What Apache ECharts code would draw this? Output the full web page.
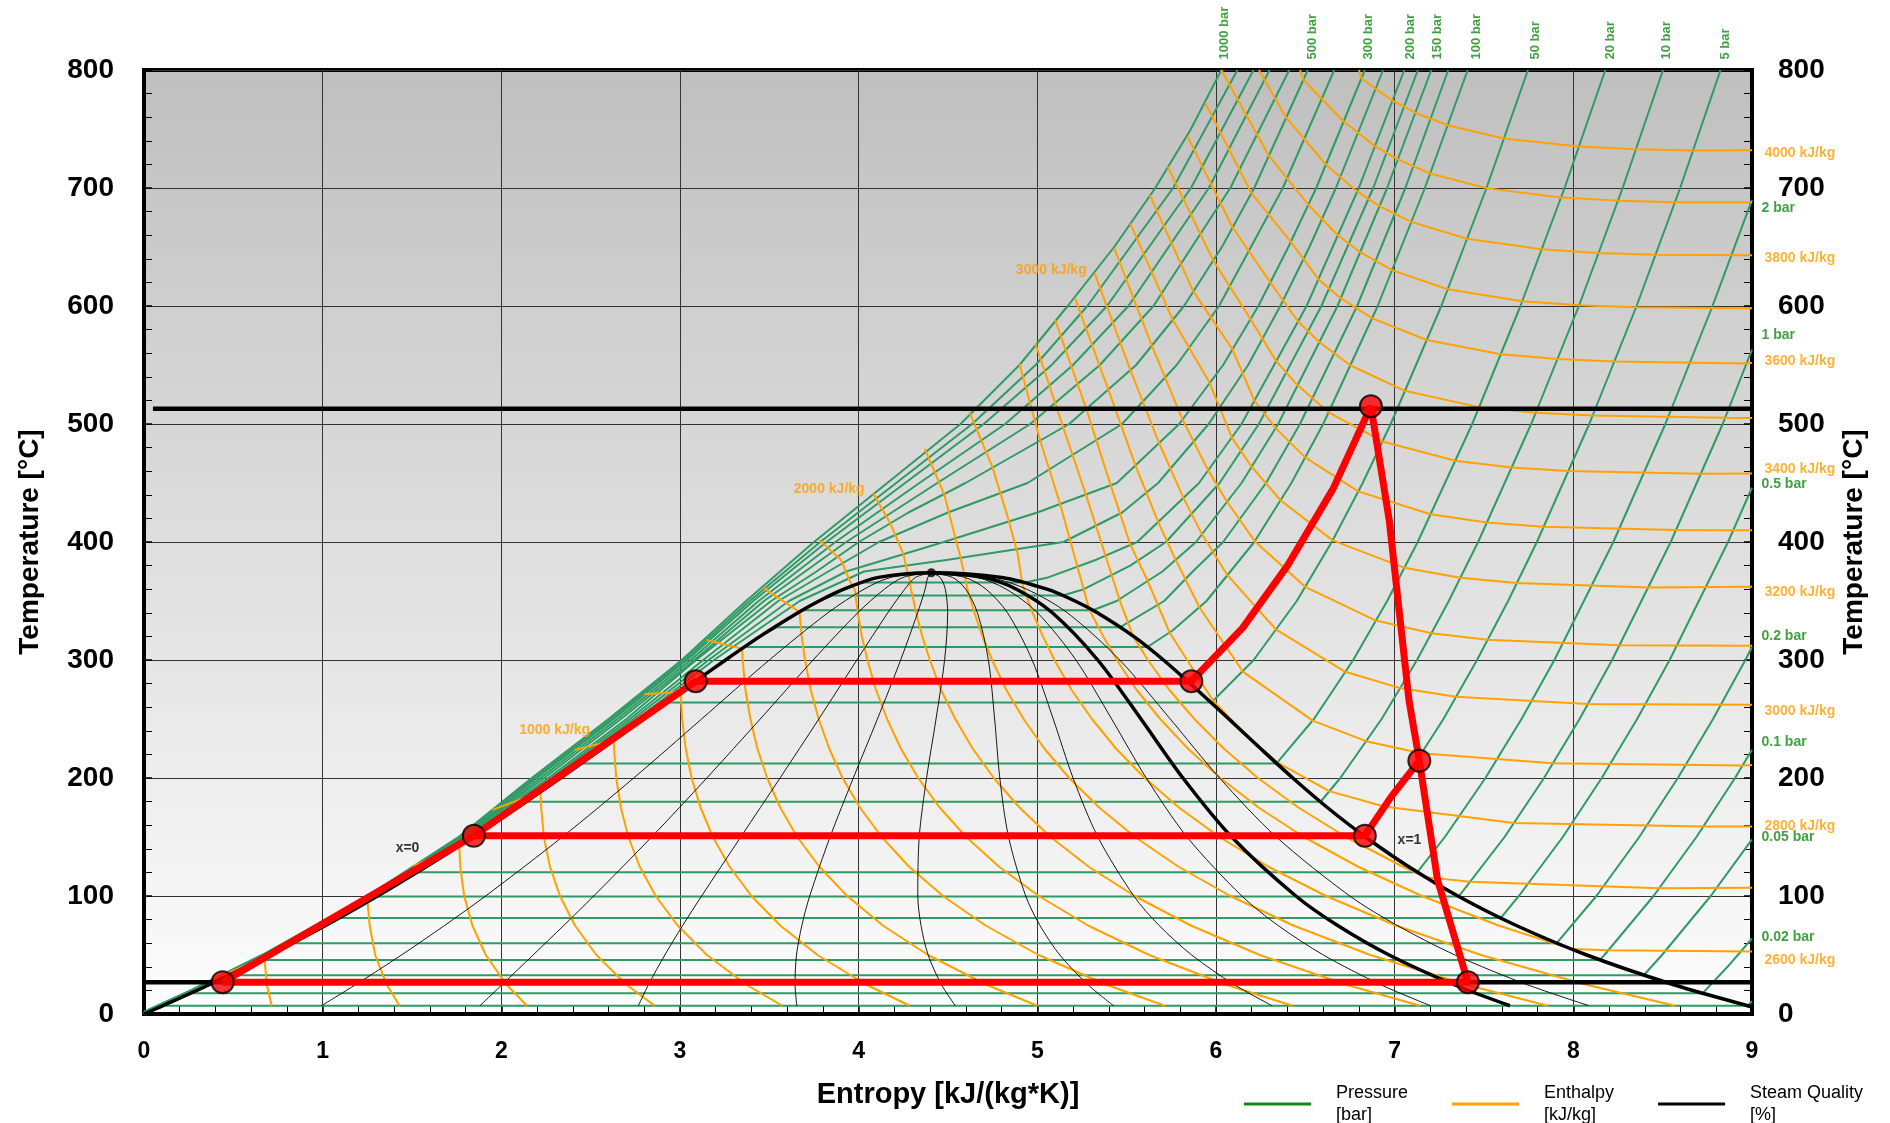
<!DOCTYPE html>
<html>
<head>
<meta charset="utf-8">
<title>T-s diagram of water</title>
<script src="https://cdn.jsdelivr.net/npm/echarts/dist/echarts.min.js"></script>
<style>
  html, body { margin: 0; padding: 0; background: #fff; }
  #chart { width: 1890px; height: 1123px; }
</style>
</head>
<body>
<div id="chart"></div>
<script>
// all points are [entropy kJ/(kg*K), temperature °C]

// saturation dome
const satLiquid = [[0, 0.01], [0.106, 7], [0.367, 25], [0.704, 50], [1.016, 75], [1.307, 100], [1.581, 125],
  [1.842, 150], [2.091, 175], [2.331, 200], [2.564, 225], [2.794, 250], [3.022, 275], [3.255, 300],
  [3.448, 320], [3.660, 340], [3.778, 350], [3.917, 360], [4.111, 370], [4.407, 373.95]];
const satVapor = [[4.407, 373.95], [4.801, 370], [5.054, 360], [5.211, 350], [5.336, 340], [5.539, 320],
  [5.706, 300], [5.892, 275], [6.072, 250], [6.249, 225], [6.430, 200], [6.623, 175], [6.837, 150],
  [7.077, 125], [7.354, 100], [7.681, 75], [8.075, 50], [8.558, 25], [8.975, 7], [9.0, 6]];
const criticalPoint = [4.407, 373.95];

// steam quality lines x = 0.1 ... 0.9
const qualityLevels = [0.1, 0.2, 0.3, 0.4, 0.5, 0.6, 0.7, 0.8, 0.9];
const qualityCurves = [
  [[0.993, 7], [1.186, 25], [1.441, 50], [1.682, 75], [1.912, 100], [2.341, 150], [2.741, 200], [3.121, 250], [3.500, 300], [3.828, 340], [4.030, 360], [4.180, 370], [4.407, 373.95]],
  [[1.880, 7], [2.005, 25], [2.178, 50], [2.349, 75], [2.517, 100], [2.841, 150], [3.150, 200], [3.449, 250], [3.745, 300], [3.995, 340], [4.144, 360], [4.249, 370], [4.407, 373.95]],
  [[2.767, 7], [2.824, 25], [2.915, 50], [3.015, 75], [3.121, 100], [3.340, 150], [3.560, 200], [3.777, 250], [3.990, 300], [4.163, 340], [4.258, 360], [4.318, 370], [4.407, 373.95]],
  [[3.654, 7], [3.644, 25], [3.652, 50], [3.682, 75], [3.726, 100], [3.840, 150], [3.970, 200], [4.105, 250], [4.235, 300], [4.330, 340], [4.372, 360], [4.387, 370], [4.407, 373.95]],
  [[4.541, 7], [4.463, 25], [4.389, 50], [4.349, 75], [4.331, 100], [4.339, 150], [4.380, 200], [4.433, 250], [4.481, 300], [4.498, 340], [4.485, 360], [4.456, 370], [4.407, 373.95]],
  [[5.427, 7], [5.282, 25], [5.126, 50], [5.015, 75], [4.935, 100], [4.839, 150], [4.790, 200], [4.761, 250], [4.726, 300], [4.665, 340], [4.599, 360], [4.525, 370], [4.407, 373.95]],
  [[6.314, 7], [6.101, 25], [5.864, 50], [5.682, 75], [5.540, 100], [5.339, 150], [5.200, 200], [5.089, 250], [4.971, 300], [4.833, 340], [4.713, 360], [4.594, 370], [4.407, 373.95]],
  [[7.201, 7], [6.920, 25], [6.601, 50], [6.348, 75], [6.145, 100], [5.838, 150], [5.610, 200], [5.416, 250], [5.216, 300], [5.001, 340], [4.826, 360], [4.663, 370], [4.407, 373.95]],
  [[8.088, 7], [7.739, 25], [7.338, 50], [7.015, 75], [6.749, 100], [6.338, 150], [6.020, 200], [5.744, 250], [5.461, 300], [5.168, 340], [4.940, 360], [4.732, 370], [4.407, 373.95]]
];
// the heavy quality line (x = 0.85)
const heavyQuality = [[7.645, 7], [7.330, 25], [6.969, 50], [6.681, 75], [6.447, 100], [6.088, 150], [5.815, 200],
  [5.580, 250], [5.338, 300], [5.084, 340], [4.883, 360], [4.698, 370], [4.407, 373.95]];

// subcritical isobars: saturation state + superheated branch
const subPressures = [0.01, 0.02, 0.05, 0.1, 0.2, 0.5, 1, 2, 5, 10, 20, 50, 100, 125, 150, 175, 200];
const subSatT = [6.97, 17.5, 32.87, 45.81, 60.06, 81.32, 99.61, 120.21, 151.83, 179.88, 212.38, 263.94, 311.0, 327.8, 342.16, 354.7, 365.75];
const subSatLiqS = [0.106, 0.261, 0.476, 0.649, 0.832, 1.091, 1.303, 1.530, 1.860, 2.138, 2.447, 2.921, 3.360, 3.544, 3.685, 3.853, 4.015];
const subSatVapS = [8.975, 8.723, 8.394, 8.149, 7.907, 7.593, 7.359, 7.127, 6.821, 6.585, 6.339, 5.974, 5.616, 5.464, 5.311, 5.142, 4.931];
const subSuperheat = [
  [[9.0, 10.8]],
  [[8.863, 40], [9.0, 64]],
  [[8.496, 50], [8.769, 100], [9.0, 148]],
  [[8.174, 50], [8.449, 100], [8.689, 150], [8.905, 200], [9.0, 224]],
  [[8.129, 100], [8.369, 150], [8.585, 200], [8.782, 250], [8.963, 300], [9.0, 311]],
  [[7.695, 100], [7.941, 150], [8.159, 200], [8.357, 250], [8.539, 300], [8.866, 400], [9.0, 446]],
  [[7.615, 150], [7.836, 200], [8.035, 250], [8.217, 300], [8.545, 400], [8.836, 500], [9.0, 563]],
  [[7.281, 150], [7.508, 200], [7.710, 250], [7.894, 300], [8.224, 400], [8.515, 500], [8.779, 600], [9.0, 690]],
  [[7.061, 200], [7.273, 250], [7.461, 300], [7.635, 350], [7.796, 400], [8.089, 500], [8.354, 600], [8.598, 700], [8.824, 800]],
  [[6.696, 200], [6.927, 250], [7.125, 300], [7.303, 350], [7.467, 400], [7.764, 500], [8.031, 600], [8.276, 700], [8.502, 800]],
  [[6.548, 250], [6.768, 300], [6.958, 350], [7.129, 400], [7.434, 500], [7.704, 600], [7.951, 700], [8.179, 800]],
  [[6.211, 300], [6.452, 350], [6.648, 400], [6.821, 450], [6.978, 500], [7.261, 600], [7.514, 700], [7.746, 800]],
  [[5.757, 325], [5.947, 350], [6.214, 400], [6.422, 450], [6.600, 500], [6.905, 600], [7.169, 700], [7.409, 800]],
  [[5.710, 350], [5.870, 375], [6.040, 400], [6.280, 450], [6.470, 500], [6.790, 600], [7.060, 700], [7.300, 800]],
  [[5.444, 350], [5.700, 375], [5.888, 400], [6.143, 450], [6.348, 500], [6.680, 600], [6.958, 700], [7.205, 800]],
  [[5.260, 360], [5.520, 380], [5.720, 400], [6.020, 450], [6.240, 500], [6.590, 600], [6.880, 700], [7.130, 800]],
  [[5.060, 370], [5.330, 385], [5.559, 400], [5.905, 450], [6.143, 500], [6.507, 600], [6.799, 700], [7.054, 800]]
];

// supercritical isobars (bar)
const superPressures = [250, 300, 400, 500, 600, 700, 800, 900, 1000];
const superCurves = [
  [[0, 1], [0.293, 20], [0.70, 50], [1.294, 100], [1.82, 150], [2.30, 200], [2.76, 250], [3.19, 300], [3.67, 350], [4.03, 375], [4.50, 385], [5.146, 400], [5.475, 425], [5.676, 450], [5.959, 500], [6.18, 550], [6.360, 600], [6.523, 650], [6.671, 700], [6.935, 800]],
  [[0, 1], [0.292, 20], [0.70, 50], [1.292, 100], [1.815, 150], [2.295, 200], [2.74, 250], [3.16, 300], [3.61, 350], [3.93, 375], [4.476, 400], [5.00, 425], [5.445, 450], [5.794, 500], [6.04, 550], [6.237, 600], [6.405, 650], [6.561, 700], [6.833, 800]],
  [[0, 1], [0.291, 20], [0.695, 50], [1.288, 100], [1.81, 150], [2.28, 200], [2.72, 250], [3.13, 300], [3.55, 350], [3.83, 375], [4.114, 400], [4.50, 425], [4.945, 450], [5.474, 500], [5.78, 550], [6.017, 600], [6.374, 700], [6.662, 800]],
  [[0, 1], [0.290, 20], [0.69, 50], [1.284, 100], [1.80, 150], [2.263, 200], [2.70, 250], [3.09, 300], [3.51, 350], [3.764, 375], [4.001, 400], [4.279, 425], [4.598, 450], [5.178, 500], [5.553, 550], [5.821, 600], [6.033, 650], [6.214, 700], [6.514, 800]],
  [[0, 1], [0.285, 20], [0.685, 50], [1.28, 100], [1.79, 150], [2.24, 200], [2.67, 250], [3.08, 300], [3.47, 350], [3.93, 400], [4.44, 450], [4.96, 500], [5.35, 550], [5.65, 600], [6.08, 700], [6.41, 800]],
  [[0, 1], [0.28, 20], [0.68, 50], [1.27, 100], [1.782, 150], [2.22, 200], [2.65, 250], [3.06, 300], [3.44, 350], [3.87, 400], [4.34, 450], [4.82, 500], [5.20, 550], [5.51, 600], [5.96, 700], [6.30, 800]],
  [[0, 1], [0.27, 20], [0.675, 50], [1.26, 100], [1.775, 150], [2.20, 200], [2.63, 250], [3.04, 300], [3.41, 350], [3.82, 400], [4.26, 450], [4.70, 500], [5.08, 550], [5.39, 600], [5.86, 700], [6.21, 800]],
  [[0, 1.5], [0.265, 20], [0.668, 50], [1.255, 100], [1.768, 150], [2.185, 200], [2.615, 250], [3.025, 300], [3.39, 350], [3.785, 400], [4.21, 450], [4.635, 500], [4.99, 550], [5.28, 600], [5.76, 700], [6.12, 800]],
  [[0, 2], [0.26, 20], [0.66, 50], [1.25, 100], [1.76, 150], [2.17, 200], [2.60, 250], [3.01, 300], [3.37, 350], [3.75, 400], [4.16, 450], [4.57, 500], [4.90, 550], [5.17, 600], [5.43, 650], [5.66, 700], [5.86, 750], [6.03, 800]]
];

// isenthalps (kJ/kg)
const enthalpyLevels = [200, 400, 600, 800, 1000, 1200, 1400, 1600, 1800, 2000, 2200, 2400,
  2600, 2700, 2800, 2900, 3000, 3100, 3200, 3300, 3400, 3500, 3600, 3700, 3800, 3900, 4000];
const enthalpyCurves = [
  [[0.38, 29], [0.674, 47.8], [0.687, 25], [0.715, 7]],
  [[0.985, 77.5], [1.251, 95.5], [1.263, 75], [1.294, 50], [1.358, 25], [1.430, 7]],
  [[1.51, 125.6], [1.765, 142.5], [1.770, 125], [1.792, 100], [1.838, 75], [1.913, 50], [2.028, 25], [2.144, 7]],
  [[1.95, 173], [2.219, 188.3], [2.223, 175], [2.238, 150], [2.272, 125], [2.328, 100], [2.412, 75], [2.532, 50], [2.699, 25], [2.858, 7]],
  [[2.41, 223.7], [2.629, 232.1], [2.631, 225], [2.643, 200], [2.669, 175], [2.711, 150], [2.774, 125], [2.864, 100], [2.987, 75], [3.151, 50], [3.370, 25], [3.572, 7]],
  [[2.80, 271], [3.003, 272.9], [3.012, 250], [3.032, 225], [3.065, 200], [3.115, 175], [3.184, 150], [3.277, 125], [3.400, 100], [3.561, 75], [3.770, 50], [4.041, 25], [4.286, 7]],
  [[3.15, 317], [3.348, 309.6], [3.351, 300], [3.366, 275], [3.394, 250], [3.433, 225], [3.488, 200], [3.561, 175], [3.656, 150], [3.779, 125], [3.936, 100], [4.135, 75], [4.389, 50], [4.712, 25], [5.000, 7]],
  [[3.47, 360.7], [3.669, 340.8], [3.681, 320], [3.700, 300], [3.731, 275], [3.776, 250], [3.835, 225], [3.910, 200], [4.007, 175], [4.129, 150], [4.281, 125], [4.472, 100], [4.710, 75], [5.007, 50], [5.383, 25], [5.714, 7]],
  [[3.78, 401.7], [3.90, 385], [3.964, 362.4], [3.978, 360], [3.995, 340], [4.018, 320], [4.049, 300], [4.096, 275], [4.159, 250], [4.236, 225], [4.333, 200], [4.453, 175], [4.602, 150], [4.784, 125], [5.008, 100], [5.284, 75], [5.626, 50], [6.054, 25], [6.428, 7]],
  [[4.08, 441.5], [4.18, 415], [4.25, 390], [4.276, 372.2], [4.283, 370], [4.293, 360], [4.322, 340], [4.356, 320], [4.398, 300], [4.460, 275], [4.541, 250], [4.638, 225], [4.756, 200], [4.900, 175], [5.074, 150], [5.286, 125], [5.544, 100], [5.859, 75], [6.245, 50], [6.725, 25], [7.142, 7]],
  [[4.37, 479], [4.48, 440], [4.54, 404], [4.57, 387], [4.595, 370], [4.609, 360], [4.648, 340], [4.693, 320], [4.747, 300], [4.825, 275], [4.923, 250], [5.039, 225], [5.178, 200], [5.346, 175], [5.547, 150], [5.788, 125], [6.080, 100], [6.433, 75], [6.864, 50], [7.396, 25], [7.856, 7]],
  [[4.62, 510], [4.75, 463], [4.84, 418], [4.89, 390], [4.915, 365.5], [4.925, 360], [4.974, 340], [5.031, 320], [5.096, 300], [5.190, 275], [5.306, 250], [5.440, 225], [5.601, 200], [5.792, 175], [6.019, 150], [6.291, 125], [6.616, 100], [7.007, 75], [7.483, 50], [8.067, 25], [8.570, 7]],
  [[4.90, 551], [5.016, 486], [5.125, 433.5], [5.22, 381.6], [5.29, 343], [5.300, 340], [5.369, 320], [5.445, 300], [5.554, 275], [5.688, 250], [5.842, 225], [6.024, 200], [6.238, 175], [6.492, 150], [6.793, 125], [7.152, 100], [7.582, 75], [7.988, 55], [8.196, 54], [9.0, 53]],
  [[4.99, 568], [5.145, 497], [5.27, 441], [5.378, 390], [5.46, 351], [5.536, 320], [5.619, 300], [5.737, 275], [5.879, 250], [6.043, 225], [6.235, 200], [6.461, 175], [6.728, 150], [7.044, 125], [7.173, 116], [7.422, 112], [8.481, 106.6], [9.0, 107]],
  [[5.10, 588], [5.274, 512.8], [5.41, 448.4], [5.52, 398], [5.612, 368.9], [5.74, 323.3], [5.984, 265.5], [6.186, 234], [6.345, 213], [6.634, 188.9], [6.941, 175.9], [7.667, 161.8], [8.728, 159], [9.0, 159]],
  [[5.21, 607], [5.397, 529.3], [5.549, 465], [5.676, 417], [5.769, 386.6], [5.907, 344.7], [6.15, 290.2], [6.541, 248.6], [6.840, 231.2], [7.150, 221], [7.885, 212.4], [8.946, 210.5], [9.0, 211]],
  [[5.32, 628], [5.52, 546], [5.681, 483.9], [5.818, 437.4], [5.921, 406.7], [6.064, 371.9], [6.335, 325.9], [6.724, 290], [7.030, 276.2], [7.344, 268.8], [8.081, 262.75], [9.0, 262]],
  [[5.43, 649], [5.641, 566.4], [5.81, 504.7], [5.956, 460.7], [6.062, 434.1], [6.217, 400.7], [6.499, 362], [6.895, 333.4], [7.206, 322.7], [7.521, 317.1], [8.258, 312.5], [9.0, 312]],
  [[5.52, 670], [5.758, 588.4], [5.963, 535.3], [6.089, 488.5], [6.199, 463.8], [6.361, 435.4], [6.653, 401.4], [7.055, 378.1], [7.367, 369.7], [7.684, 365.3], [8.419, 361.5], [9.0, 362]],
  [[5.63, 694], [5.873, 612.4], [6.092, 563.3], [6.215, 519.7], [6.334, 496.5], [6.499, 471.7], [6.796, 442.9], [7.201, 423.5], [7.516, 416.5], [7.834, 413], [8.575, 410.2], [9.0, 410]],
  [[5.73, 718], [5.985, 638.6], [6.193, 588.9], [6.337, 553.3], [6.457, 532.8], [6.630, 509.9], [6.932, 485.2], [7.339, 468.9], [7.655, 463.1], [7.972, 460.2], [8.713, 457.8], [9.0, 458]],
  [[5.84, 744], [6.093, 666.5], [6.305, 619.8], [6.459, 586.9], [6.578, 569.5], [6.751, 549.8], [7.057, 528.1], [7.472, 514.3], [7.790, 509.5], [8.108, 507.1], [8.850, 505.2], [9.0, 505]],
  [[5.94, 772], [6.198, 695.7], [6.419, 654.4], [6.573, 622.7], [6.698, 606.6], [6.873, 589.7], [7.179, 571.2], [7.594, 559.2], [7.911, 555.1], [8.230, 552.9], [8.971, 551.3], [9.0, 552]],
  [[6.03, 800], [6.296, 727.4], [6.517, 685.8], [6.682, 659.9], [6.807, 645.7], [6.985, 630.4], [7.296, 614.2], [7.714, 604.1], [8.033, 600.6], [8.352, 598.9], [9.0, 598]],
  [[6.24, 800], [6.393, 759.6], [6.615, 719.9], [6.790, 697.1], [6.915, 684.7], [7.093, 671.3], [7.405, 657], [7.823, 648], [8.141, 645], [8.460, 643.4], [9.0, 643]],
  [[6.47, 800], [6.489, 791.7], [6.714, 756.3], [6.890, 735.5], [7.018, 724.2], [7.199, 712.3], [7.513, 699.9], [7.931, 692], [8.249, 689.3], [8.569, 688], [9.0, 688]],
  [[6.80, 800], [6.814, 792.8], [6.988, 774], [7.116, 763.8], [7.297, 753.2], [7.611, 742], [8.031, 735.2], [8.350, 732.8], [8.670, 731.7], [9.0, 732]]
];

// the Rankine cycle drawn in red
const cycleMain = [[0.44, 27], [1.846, 151], [3.088, 282], [5.862, 282], [6.148, 327], [6.40, 380], [6.655, 445],
  [6.867, 515], [6.97, 418], [7.08, 266], [7.138, 214.7], [7.24, 113.6], [7.41, 27], [0.44, 27]];
const cycleBranch = [[1.846, 151], [6.833, 151], [6.98, 184], [7.138, 214.7]];
const cyclePoints = [[0.44, 27], [1.846, 151], [3.088, 282], [5.862, 282], [6.867, 515], [7.138, 214.7], [6.833, 151], [7.41, 27]];
const upperLimit = [[0.05, 513], [9, 513]];
const lowerLimit = [[0, 27], [9, 27]];

// labels
const topBarText = ['1000 bar', '500 bar', '300 bar', '200 bar', '150 bar', '100 bar', '50 bar', '20 bar', '10 bar', '5 bar'];
const topBarS = [6.047, 6.54, 6.855, 7.087, 7.24, 7.46, 7.79, 8.21, 8.52, 8.85];
const sideBarText = ['2 bar', '1 bar', '0.5 bar', '0.2 bar', '0.1 bar', '0.05 bar', '0.02 bar'];
const sideBarT = [683.3, 575.4, 448.9, 320.3, 230.8, 150.3, 65.5];
const sideEnthalpyText = ['4000 kJ/kg', '3800 kJ/kg', '3600 kJ/kg', '3400 kJ/kg', '3200 kJ/kg', '3000 kJ/kg', '2800 kJ/kg', '2600 kJ/kg'];
const sideEnthalpyT = [729.4, 640.4, 553.4, 461.6, 357.4, 257.0, 158.8, 45.8];
const innerEnthalpyText = ['1000 kJ/kg', '2000 kJ/kg', '3000 kJ/kg'];
const innerEnthalpyPos = [[2.298, 240.3], [3.835, 444.6], [5.078, 630.5]];
const qualityLabelText = ['x=0', 'x=1'];
const qualityLabelPos = [[1.475, 140.2], [7.083, 147.5]];
const legendNames = ['Pressure', 'Enthalpy', 'Steam Quality'];
const legendUnits = ['[bar]', '[kJ/kg]', '[%]'];

const FONT = 'Liberation Sans, Arial, sans-serif';
const GREEN = '#2e9a64';
const ORANGE = '#ffa200';
const TEXT_GREEN = '#118811';
const TEXT_ORANGE = '#ff9e00';

function curve(name, data, color, width, z, smooth) {
  return {
    name: name, type: 'line', data: data, symbol: 'none', smooth: smooth || false,
    lineStyle: { color: color, width: width }, itemStyle: { color: color },
    z: z, silent: true
  };
}

function textSeries(points, texts, color, size, label) {
  return {
    type: 'scatter', symbolSize: 1, clip: false, silent: true, z: 20,
    itemStyle: { color: 'rgba(0,0,0,0)' },
    data: points.map((p, i) => ({ value: p, label: { formatter: texts[i] } })),
    label: Object.assign({ show: true, color: color, fontSize: size, fontWeight: 'bold', fontFamily: FONT }, label)
  };
}

const series = [];

subPressures.forEach((p, i) => {
  const T = subSatT[i];
  const liquid = satLiquid.filter(pt => pt[1] < T);
  const path = liquid.concat([[subSatLiqS[i], T], [subSatVapS[i], T]], subSuperheat[i]);
  series.push(curve('Pressure', path, GREEN, 2, 2));
});
superPressures.forEach((p, i) => series.push(curve('Pressure', superCurves[i], GREEN, 2, 2)));
enthalpyLevels.forEach((h, i) => series.push(curve('Enthalpy', enthalpyCurves[i], ORANGE, 2, 3)));
qualityCurves.forEach(c => series.push(curve('Steam Quality', c, '#000', 0.9, 4, 0.3)));
series.push(curve('Steam Quality', heavyQuality, '#000', 3.5, 5, 0.3));
series.push(curve('Steam Quality', satLiquid.concat(satVapor.slice(1)), '#000', 3.5, 5, 0.3));
series.push(curve('limits', upperLimit, '#000', 4.5, 6));
series.push(curve('limits', lowerLimit, '#000', 4.5, 6));
series.push(curve('cycle', cycleMain, '#ff0000', 7, 8));
series.push(curve('cycle', cycleBranch, '#ff0000', 7, 8));
series.push({
  type: 'scatter', data: [criticalPoint], symbolSize: 9, silent: true, z: 7,
  itemStyle: { color: '#000' }
});
series.push({
  type: 'scatter', data: cyclePoints, symbolSize: 22, silent: true, z: 9,
  itemStyle: { color: '#ff0000', borderColor: '#000', borderWidth: 2 }
});

series.push(textSeries(topBarS.map(s => [s, 800]), topBarText, TEXT_GREEN, 13,
  { position: 'top', distance: 10, rotate: 90, align: 'left', verticalAlign: 'middle' }));
series.push(textSeries(sideBarT.map(t => [9, t]), sideBarText, TEXT_GREEN, 14,
  { position: 'right', distance: 9, align: 'left', verticalAlign: 'middle' }));
series.push(textSeries(sideEnthalpyT.map(t => [9, t]), sideEnthalpyText, TEXT_ORANGE, 14,
  { position: 'right', distance: 12, align: 'left', verticalAlign: 'middle' }));
series.push(textSeries(innerEnthalpyPos, innerEnthalpyText, TEXT_ORANGE, 14,
  { position: 'inside' }));
series.push(textSeries(qualityLabelPos, qualityLabelText, '#000', 14,
  { position: 'inside' }));

const tempAxis = (pos, margin, gap) => ({
  type: 'value', position: pos, min: 0, max: 800, interval: 100,
  axisLine: { show: true, onZero: false, lineStyle: { color: '#000', width: 4 } },
  axisTick: { show: true, inside: true, length: 8, lineStyle: { color: '#000', width: 1.5 } },
  minorTick: { show: true, splitNumber: 5, length: 8, lineStyle: { color: '#000', width: 1 } },
  splitLine: { show: pos === 'left', lineStyle: { color: '#333', width: 1 } },
  axisLabel: { color: '#000', fontWeight: 'bold', fontSize: 28, fontFamily: FONT, margin: margin },
  name: 'Temperature [°C]', nameLocation: 'middle', nameGap: gap,
  nameTextStyle: { color: '#000', fontWeight: 'bold', fontSize: 28, fontFamily: FONT }
});

const chart = echarts.init(document.getElementById('chart'));
chart.setOption({
  animation: false,
  backgroundColor: '#ffffff',
  grid: {
    left: 144, top: 70, width: 1608, height: 944, show: true,
    borderColor: '#000', borderWidth: 4, containLabel: false, outerBoundsMode: 'none',
    backgroundColor: {
      type: 'linear', x: 0, y: 0, x2: 0, y2: 1,
      colorStops: [{ offset: 0, color: '#bfbfbf' }, { offset: 1, color: '#fdfdfd' }]
    }
  },
  legend: {
    left: 1239, top: 1077, orient: 'horizontal', icon: 'rect',
    itemWidth: 67, itemHeight: 3, itemGap: 44, selectedMode: false,
    data: [
      { name: legendNames[0], itemStyle: { color: '#128a12' } },
      { name: legendNames[1], itemStyle: { color: '#ffa200' } },
      { name: legendNames[2], itemStyle: { color: '#000' } }
    ],
    formatter: name => name + '\n' + legendUnits[legendNames.indexOf(name)],
    textStyle: { color: '#000', fontSize: 18, fontFamily: FONT, lineHeight: 22, padding: [0, 0, 0, 20] }
  },
  xAxis: {
    type: 'value', min: 0, max: 9, interval: 1,
    axisLine: { show: true, onZero: false, lineStyle: { color: '#000', width: 4 } },
    axisTick: { show: true, inside: true, length: 8, lineStyle: { color: '#000', width: 1.5 } },
    minorTick: { show: true, splitNumber: 5, length: 8, lineStyle: { color: '#000', width: 1 } },
    splitLine: { show: true, lineStyle: { color: '#333', width: 1 } },
    axisLabel: { color: '#000', fontWeight: 'bold', fontSize: 23, fontFamily: FONT, margin: 26 },
    name: 'Entropy [kJ/(kg*K)]', nameLocation: 'middle', nameGap: 66,
    nameTextStyle: { color: '#000', fontWeight: 'bold', fontSize: 29, fontFamily: FONT }
  },
  yAxis: [tempAxis('left', 30, 100), tempAxis('right', 26, 88)],
  series: series
});
</script>
</body>
</html>
